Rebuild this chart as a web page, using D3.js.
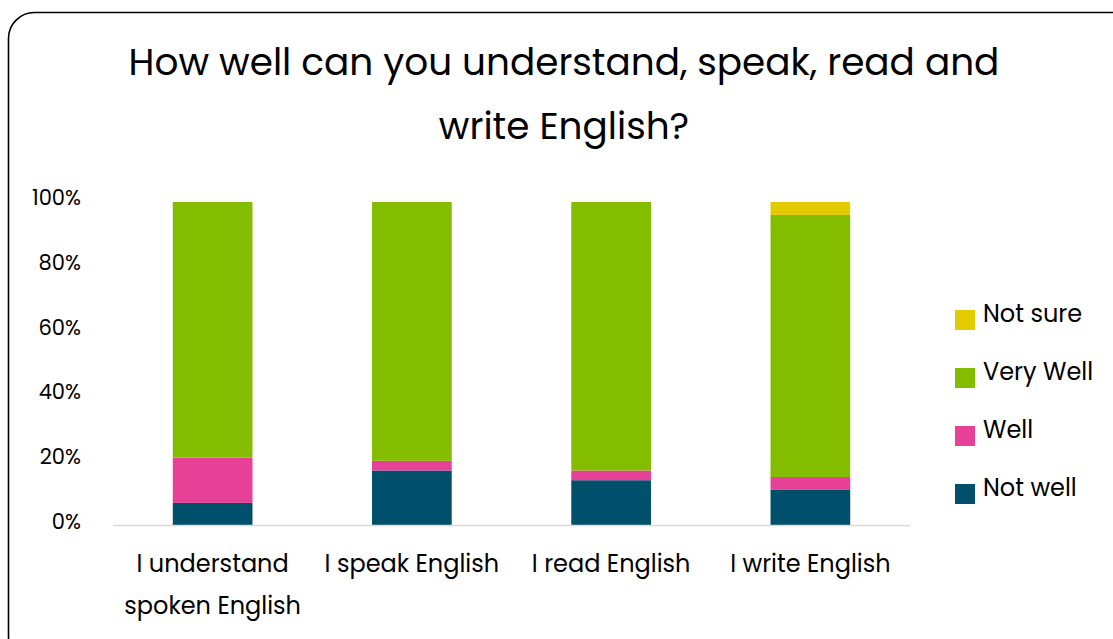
<!DOCTYPE html>
<html>
<head>
<meta charset="utf-8">
<script src="https://cdn.jsdelivr.net/npm/d3@7"></script>
<style>
  html, body { margin: 0; padding: 0; background: #ffffff; }
  svg { display: block; font-family: Poppins, Inter, "Noto Sans", sans-serif; }
</style>
</head>
<body>
<svg id="chart" width="1113" height="639"></svg>
<script>
// Survey answers (percent of respondents) per skill
const categories = [["I understand", "spoken English"], ["I speak English"], ["I read English"], ["I write English"]];
const notWell  = [7, 17, 14, 11];
const well     = [14, 3, 3, 4];
const veryWell = [79, 80, 83, 81];
const notSure  = [0, 0, 0, 4];
const seriesNames = ["Not well", "Well", "Very Well", "Not sure"];
const seriesColors = ["#00506b", "#e64097", "#84bd00", "#e2cc00"];
const yTicks = [0, 20, 40, 60, 80, 100];
const titleLines = ["How well can you understand, speak, read and", "write English?"];

const svg = d3.select("#chart");

// Rounded outer frame
svg.append("rect")
  .attr("x", 8.5).attr("y", 12.5)
  .attr("width", 1130).attr("height", 650)
  .attr("rx", 26).attr("ry", 26)
  .attr("fill", "#ffffff")
  .attr("stroke", "#000000")
  .attr("stroke-width", 1.6);

// Title
svg.append("g").selectAll("text")
  .data(titleLines)
  .join("text")
  .attr("x", 564)
  .attr("y", (d, i) => 75 + i * 64)
  .attr("text-anchor", "middle")
  .attr("font-size", 37.4)
  .attr("fill", "#000000")
  .text(d => d);

const keys = categories.map((c, i) => i);
const rows = keys.map(i => ({
  key: i,
  "Not well": notWell[i],
  "Well": well[i],
  "Very Well": veryWell[i],
  "Not sure": notSure[i]
}));
const stacked = d3.stack().keys(seriesNames)(rows);

const x = d3.scaleBand().domain(keys).range([113, 910]).paddingInner(0.6).paddingOuter(0.3);
const y = d3.scaleLinear().domain([0, 100]).range([525.5, 202]);
const color = d3.scaleOrdinal().domain(seriesNames).range(seriesColors);

// Bars
svg.append("g").selectAll("g")
  .data(stacked)
  .join("g")
  .attr("fill", d => color(d.key))
  .selectAll("rect")
  .data(d => d.filter(s => s[1] - s[0] > 0))
  .join("rect")
  .attr("x", d => x(d.data.key))
  .attr("width", x.bandwidth())
  .attr("y", d => y(d[1]))
  .attr("height", d => y(d[0]) - y(d[1]));

// Baseline
svg.append("line")
  .attr("x1", 113).attr("x2", 910)
  .attr("y1", y(0)).attr("y2", y(0))
  .attr("stroke", "#d9d9d9").attr("stroke-width", 1.5);

// Y axis labels
const yAxis = d3.axisLeft(y).tickValues(yTicks).tickFormat(d => d + "%").tickSize(0).tickPadding(0);
const yg = svg.append("g").attr("transform", "translate(81,0)").call(yAxis);
yg.attr("font-family", null).attr("font-size", null);
yg.select(".domain").remove();
yg.selectAll("text")
  .attr("font-size", 21)
  .attr("fill", "#000000")
  .attr("dy", "0.32em")
  .attr("transform", "translate(0,-4)");

// Category labels
const xg = svg.append("g");
categories.forEach((lines, i) => {
  const t = xg.append("text")
    .attr("x", x(i) + x.bandwidth() / 2)
    .attr("y", 572)
    .attr("text-anchor", "middle")
    .attr("font-size", 24)
    .attr("fill", "#000000");
  lines.forEach((ln, j) => {
    t.append("tspan")
      .attr("x", x(i) + x.bandwidth() / 2)
      .attr("dy", j === 0 ? 0 : 42)
      .text(ln);
  });
});

// Legend, top entry first
const legendOrder = seriesNames.slice().reverse();
const lg = svg.append("g").selectAll("g")
  .data(legendOrder)
  .join("g")
  .attr("transform", (d, i) => `translate(955,${310 + i * 58})`);
lg.append("rect")
  .attr("width", 20).attr("height", 20)
  .attr("fill", d => color(d));
lg.append("text")
  .attr("x", 28).attr("y", 12)
  .attr("font-size", 24)
  .attr("fill", "#000000")
  .text(d => d);
</script>
</body>
</html>
